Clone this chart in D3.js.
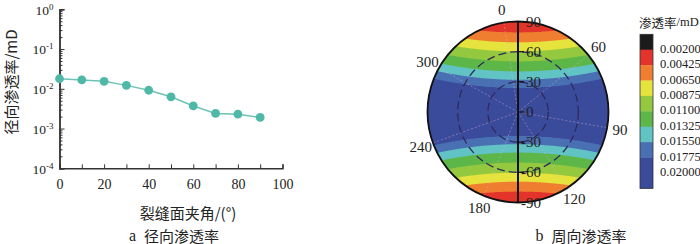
<!DOCTYPE html>
<html><head><meta charset="utf-8">
<script src="https://cdn.jsdelivr.net/npm/d3@7"></script>
<style>
html,body{margin:0;padding:0;background:#fff;}
svg{display:block;}
</style></head>
<body>
<svg id="chart" width="700" height="244"></svg>
<script>
// ---------- data: panel a ----------
const angleVals = [0, 10, 20, 30, 40, 50, 60, 70, 80, 90];
const radialPerm = [0.0179, 0.0167, 0.0154, 0.0122, 0.0092, 0.0063, 0.0037, 0.0024, 0.0023, 0.0019];
const xTickVals = [0, 10, 20, 30, 40, 50, 60, 70, 80, 90, 100];
const xTickLabels = [0, 20, 40, 60, 80, 100];
const yDecades = [1, 0.1, 0.01, 0.001, 0.0001];
const yDecadeExp = ["0", "-1", "-2", "-3", "-4"];

// ---------- data: panel b ----------
const levels = [0.002, 0.00425, 0.0065, 0.00875, 0.011, 0.01325, 0.0155, 0.01775, 0.02];
const levelLabels = ["0.00200", "0.00425", "0.00650", "0.00875", "0.01100", "0.01325", "0.01550", "0.01775", "0.02000"];
const bandColors = ["#1b1b1b", "#e3342b", "#ef7e31", "#e6e33d", "#94c83f", "#5db748", "#62c3c5", "#4a70b4", "#3b4b9c", "#3b4b9c"];
// permeability read along the central (vertical) axis of the polar plot vs dip
const axisDip = [0, 24, 32, 40.3, 50.3, 60.3, 69.3, 79, 90];
const axisPerm = [0.0195, 0.01775, 0.0155, 0.01325, 0.011, 0.00875, 0.0065, 0.00425, 0.003];
const bandSag = 0.12; // contour curvature
const dipLabels = [90, 60, 30, 0, -30, -60, -90];
const dipTicks = [60, 30, 0, -30, -60];
const dipCircles = [30, 60];
const azLabels = ["0", "60", "90", "120", "180", "240", "300"];
const azAngles = [-9, 51, 100, 147, 202, 250, 299];

const svg = d3.select("#chart");
const SERIF = '"Liberation Serif","DejaVu Serif","Times New Roman",serif';
const CJK = '"Noto Sans CJK SC","Noto Sans CJK JP",sans-serif';

// ================= Panel a =================
const x = d3.scaleLinear().domain([0, 100]).range([59.5, 282.5]);
const y = d3.scaleLog().domain([1e-4, 1]).range([168.3, 9.3]);
const gA = svg.append("g");

// minor y ticks
const minorVals = [];
[1e-4, 1e-3, 1e-2, 1e-1].forEach(d => { for (let k = 2; k <= 9; k++) minorVals.push(d * k); });
const yMinor = gA.append("g").attr("transform", `translate(${x(0)},0)`)
  .call(d3.axisLeft(y).tickValues(minorVals).tickSize(-3).tickFormat(""));
const yMajor = gA.append("g").attr("transform", `translate(${x(0)},0)`)
  .call(d3.axisLeft(y).tickValues(yDecades).tickSize(-5).tickPadding(6).tickFormat(""));
[yMinor, yMajor].forEach(g => {
  g.select(".domain").attr("stroke", "#333").attr("stroke-width", 1.4);
  g.selectAll(".tick line").attr("stroke", "#333").attr("stroke-width", 1);
});
yMajor.selectAll(".tick text").remove();
yMajor.selectAll(".tick").each(function(d) {
  const t = d3.select(this).append("text")
    .attr("x", -6).attr("y", 0).attr("dy", "0.35em").attr("fill", "#222")
    .attr("text-anchor", "end").style("font-size", "13.5px").style("font-family", SERIF);
  t.append("tspan").text("10");
  t.append("tspan").attr("dy", "-0.55em").style("font-size", "9px").text(yDecadeExp[yDecades.indexOf(d)]);
});

const xAx = gA.append("g").attr("transform", `translate(0,${y(1e-4)})`)
  .call(d3.axisBottom(x).tickValues(xTickVals).tickSize(-4).tickPadding(11)
    .tickFormat(d => xTickLabels.includes(d) ? d : ""));
xAx.select(".domain").attr("stroke", "#333").attr("stroke-width", 1.4);
xAx.selectAll(".tick line").attr("stroke", "#333").attr("stroke-width", 1);
xAx.selectAll(".tick text").style("font-size", "14px").style("font-family", SERIF).attr("fill", "#222");

const line = d3.line().x((d, i) => x(angleVals[i])).y(d => y(d));
gA.append("path").datum(radialPerm).attr("d", line)
  .attr("fill", "none").attr("stroke", "#6cc4b6").attr("stroke-width", 1.5);
gA.selectAll("circle.pt").data(radialPerm).join("circle")
  .attr("cx", (d, i) => x(angleVals[i])).attr("cy", d => y(d)).attr("r", 4.4)
  .attr("fill", "#4fb8a7");

function cjkText(g, xx, yy, str, size) {
  return g.append("text").attr("x", xx).attr("y", yy).attr("text-anchor", "middle")
    .attr("dominant-baseline", "central").attr("fill", "#222")
    .style("font-size", size + "px").style("font-family", CJK).style("white-space", "pre")
    .text(str);
}
cjkText(gA, 0, 0, "径向渗透率/mD", 15).attr("transform", "translate(10,82) rotate(-90)");
cjkText(gA, 188, 212, "裂缝面夹角/(°)", 15);
const capA = cjkText(gA, 174, 235, "", 15);
capA.append("tspan").style("font-family", SERIF).style("font-size", "16px").text("a\u00a0\u00a0");
capA.append("tspan").text("径向渗透率");

// ================= Panel b =================
const cx = 518, cy = 112, R = 90.5;
const rScale = d3.scaleLinear().domain([0, 90]).range([0, R]);
const dipY = d3.scaleLinear().domain([-90, 90]).range([cy + R, cy - R]);
const permAtDip = d3.scaleLinear().domain(axisDip).range(axisPerm).clamp(true);
const colorOf = d3.scaleThreshold().domain(levels).range(bandColors);

const n = 200;
const vals = new Array(n * n);
for (let j = 0; j < n; j++) {
  for (let i = 0; i < n; i++) {
    const u = ((i + 0.5) / n) * 2 - 1;
    const v = 1 - ((j + 0.5) / n) * 2;
    const w = Math.max(0, Math.min(1, Math.abs(v) - bandSag * u * u));
    vals[j * n + i] = permAtDip(w * 90);
  }
}
const contours = d3.contours().size([n, n]).thresholds(levels)(vals);
const proj = d3.geoIdentity().scale((2 * R) / n).translate([cx - R, cy - R]);
const gpath = d3.geoPath(proj);

svg.append("clipPath").attr("id", "disk").append("circle")
  .attr("cx", cx).attr("cy", cy).attr("r", R);
const gB = svg.append("g");
const gField = gB.append("g").attr("clip-path", "url(#disk)");
gField.append("circle").attr("cx", cx).attr("cy", cy).attr("r", R)
  .attr("fill", colorOf(d3.min(vals)));
gField.selectAll("path").data(contours).join("path")
  .attr("d", gpath).attr("fill", d => colorOf(d.value));

// faint azimuth spokes
gField.selectAll("line.spoke").data(azAngles).join("line")
  .attr("x1", cx).attr("y1", cy)
  .attr("x2", d => cx + R * Math.sin(d * Math.PI / 180))
  .attr("y2", d => cy - R * Math.cos(d * Math.PI / 180))
  .attr("stroke", "#e8b8d8").attr("stroke-opacity", 0.5)
  .attr("stroke-width", 0.8).attr("stroke-dasharray", "2,2");

// dashed dip circles
gField.selectAll("circle.dip").data(dipCircles).join("circle")
  .attr("cx", cx).attr("cy", cy).attr("r", d => rScale(d))
  .attr("fill", "none").attr("stroke", "#2f2a58").attr("stroke-width", 1.3)
  .attr("stroke-dasharray", "8,4");

gB.append("line").attr("x1", cx).attr("x2", cx).attr("y1", cy - R).attr("y2", cy + R)
  .attr("stroke", "#111").attr("stroke-width", 2);
gB.selectAll("line.tk").data(dipTicks).join("line")
  .attr("x1", cx).attr("x2", cx + 6).attr("y1", d => dipY(d)).attr("y2", d => dipY(d))
  .attr("stroke", "#111").attr("stroke-width", 1.2);
gB.append("circle").attr("cx", cx).attr("cy", cy).attr("r", R)
  .attr("fill", "none").attr("stroke", "#111").attr("stroke-width", 1.8);

gB.selectAll("text.dip").data(dipLabels).join("text")
  .attr("x", d => d < 0 ? cx + 3 : cx + 8).attr("y", d => dipY(d))
  .attr("dominant-baseline", "central").attr("fill", "#222")
  .style("font-size", "15px").style("font-family", SERIF)
  .text(d => d);

gB.selectAll("text.az").data(azLabels).join("text")
  .attr("x", (d, i) => cx + (R + 13) * Math.sin(azAngles[i] * Math.PI / 180))
  .attr("y", (d, i) => cy - (R + 13) * Math.cos(azAngles[i] * Math.PI / 180))
  .attr("text-anchor", "middle").attr("dominant-baseline", "central").attr("fill", "#222")
  .style("font-size", "15px").style("font-family", SERIF).text(d => d);

// colour bar
const barY = d3.scaleLinear().domain([0, bandColors.length]).range([34.3, 188.3]);
const gC = svg.append("g");
gC.selectAll("rect").data(bandColors).join("rect")
  .attr("x", 640).attr("width", 13)
  .attr("y", (d, i) => barY(i)).attr("height", barY(1) - barY(0) + 0.3)
  .attr("fill", d => d);
gC.append("rect").attr("x", 640).attr("y", barY(0)).attr("width", 13)
  .attr("height", barY(bandColors.length) - barY(0))
  .attr("fill", "none").attr("stroke", "#333").attr("stroke-width", 0.8);
gC.selectAll("text.lv").data(levelLabels).join("text")
  .attr("x", 660).attr("y", (d, i) => barY(i + 1) - 1)
  .attr("dominant-baseline", "central").attr("fill", "#222")
  .style("font-size", "12.5px").style("font-family", SERIF).text(d => d);
const legT = gC.append("text").attr("x", 639).attr("y", 22).attr("dominant-baseline", "central")
  .attr("fill", "#222").style("font-size", "12.5px").style("font-family", CJK);
legT.append("tspan").text("渗透率");
legT.append("tspan").style("font-family", SERIF).text("/mD");

const capB = cjkText(svg, 581, 235, "", 15);
capB.append("tspan").style("font-family", SERIF).style("font-size", "16px").text("b\u00a0\u00a0");
capB.append("tspan").text("周向渗透率");
</script>
</body></html>
